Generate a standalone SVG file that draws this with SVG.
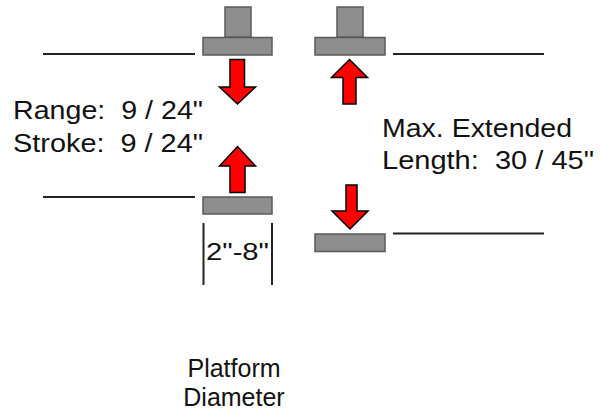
<svg xmlns="http://www.w3.org/2000/svg" width="600" height="410" viewBox="0 0 600 410">
<style>
.plat{fill:#8e8e8e;stroke:#5a5a5a;stroke-width:1.5}
.arrow{fill:#ff0000;stroke:#000;stroke-width:1.5;stroke-linejoin:miter}
.ln{stroke:#222;stroke-width:2;fill:none}
.t{font-family:"Liberation Sans",Arial,sans-serif;font-size:26px;fill:#111;white-space:pre}
</style>
<rect width="600" height="410" fill="#fff"/>
<g id="connectors">
<line class="ln" x1="43" y1="54" x2="195" y2="54"/>
<line class="ln" x1="393" y1="54" x2="544" y2="54"/>
<line class="ln" x1="43" y1="197" x2="195" y2="197"/>
<line class="ln" x1="393" y1="233.5" x2="544" y2="233.5"/>
<line class="ln" x1="203.5" y1="223" x2="203.5" y2="285"/>
<line class="ln" x1="272" y1="223" x2="272" y2="285"/>
</g>
<g id="platform-top-left">
<rect class="plat" x="225" y="7" width="26" height="30"/>
<rect class="plat" x="203" y="37.5" width="69" height="17.5"/>
</g>
<g id="platform-top-right">
<rect class="plat" x="337" y="7" width="26" height="30"/>
<rect class="plat" x="315" y="37.5" width="70" height="17.5"/>
</g>
<g id="platform-bottom-left">
<rect class="plat" x="203" y="197" width="69" height="17"/>
</g>
<g id="platform-bottom-right">
<rect class="plat" x="315" y="234" width="70" height="17.5"/>
</g>
<g id="arrow-down-left">
<polygon class="arrow" points="230,59.5 244.5,59.5 244.5,87 255.5,87 237.5,104 219.5,87 230,87"/>
</g>
<g id="arrow-up-right">
<polygon class="arrow" points="349.5,59.5 367.5,77.5 356,77.5 356,104 343,104 343,77.5 331.5,77.5"/>
</g>
<g id="arrow-up-left">
<polygon class="arrow" points="237.5,146.5 255.5,166 245,166 245,192.5 230,192.5 230,166 219.5,166"/>
</g>
<g id="arrow-down-right">
<polygon class="arrow" points="346,185 357,185 357,211 368,211 350,229 332,211 346,211"/>
</g>
<g id="label-range">
<text class="t" x="13" y="119" textLength="190" lengthAdjust="spacingAndGlyphs">Range:  9 / 24"</text>
<text class="t" x="13" y="152" textLength="190" lengthAdjust="spacingAndGlyphs">Stroke:  9 / 24"</text>
</g>
<g id="label-max">
<text class="t" x="382" y="137" textLength="190" lengthAdjust="spacingAndGlyphs">Max. Extended</text>
<text class="t" x="382" y="169" textLength="212" lengthAdjust="spacingAndGlyphs">Length:  30 / 45"</text>
</g>
<g id="label-diameter-range">
<text class="t" x="206" y="260" style="font-size:24px" textLength="63" lengthAdjust="spacingAndGlyphs">2"-8"</text>
</g>
<g id="label-platform">
<text class="t" x="234" y="377" text-anchor="middle" style="font-size:25px">Platform</text>
<text class="t" x="234" y="406" text-anchor="middle" style="font-size:25px">Diameter</text>
</g>
</svg>
